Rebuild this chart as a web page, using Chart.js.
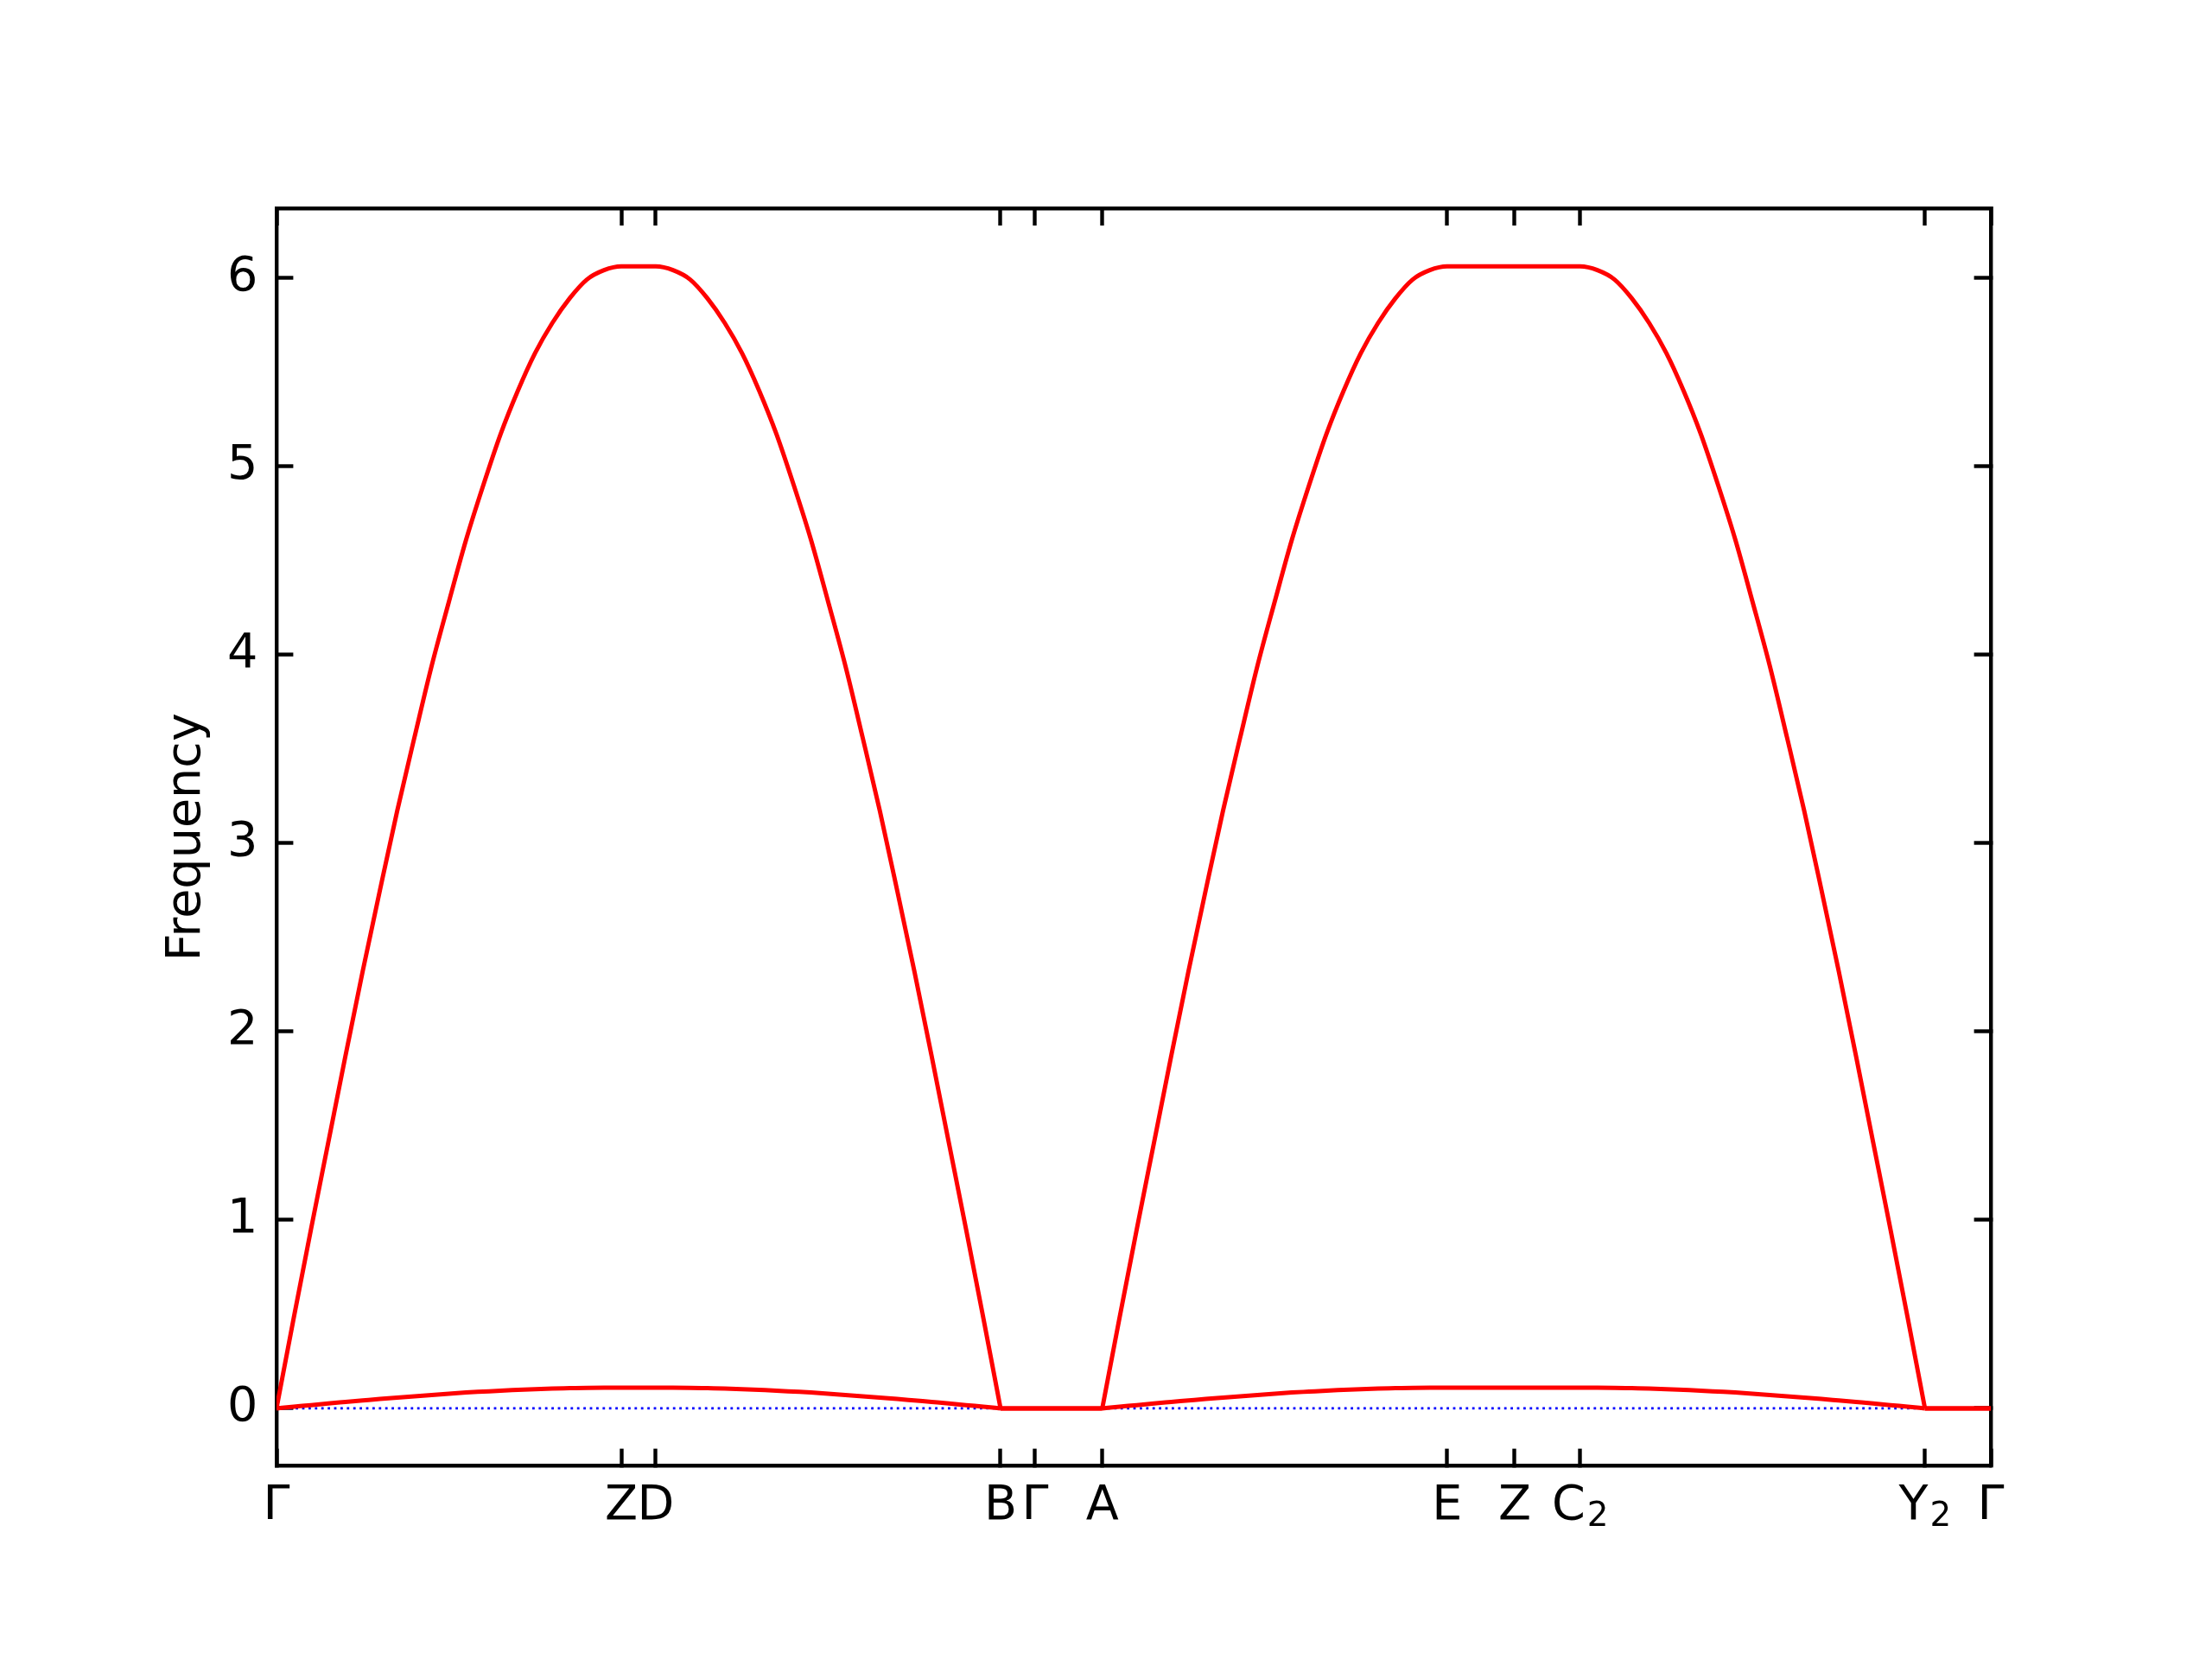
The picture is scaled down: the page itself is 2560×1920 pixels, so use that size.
<!DOCTYPE html>
<html>
<head>
<meta charset="utf-8">
<title>Frequency band structure</title>
<script src="https://cdn.jsdelivr.net/npm/chart.js@4/dist/chart.umd.min.js"></script>
<style>
  body { margin: 0; background: #fff; }
  canvas { display: block; }
</style>
</head>
<body>
<canvas id="bandChart" width="2560" height="1920"></canvas>
<script>
// high-symmetry points along the k-path
const kTicks = [0, 1.0, 1.10, 2.10, 2.20, 2.395, 3.395, 3.591, 3.781, 4.781, 4.972];
const kLabels = ['Γ', 'Z', 'D', 'B', 'Γ', 'A', 'E', 'Z', 'C', 'Y', 'Γ'];
const kSubs = ['', '', '', '', '', '', '', '', '2', '2', ''];

const freqTicks = [0, 1, 2, 3, 4, 5, 6];

// path distance of each sample
const kPath = [
    0, 0.05, 0.10, 0.15, 0.20, 0.25, 0.30, 0.35, 0.40, 0.45, 0.50,
    0.55, 0.60, 0.65, 0.70, 0.75, 0.80, 0.85, 0.90, 0.95, 1.00,
    1.10,
    1.15, 1.20, 1.25, 1.30, 1.35, 1.40, 1.45, 1.50, 1.55, 1.60,
    1.65, 1.70, 1.75, 1.80, 1.85, 1.90, 1.95, 2.00, 2.05, 2.10,
    2.20, 2.395,
    2.445, 2.495, 2.545, 2.595, 2.645, 2.695, 2.745, 2.795, 2.845, 2.895,
    2.945, 2.995, 3.045, 3.095, 3.145, 3.195, 3.245, 3.295, 3.345, 3.395,
    3.591, 3.781,
    3.831, 3.881, 3.931, 3.981, 4.031, 4.081, 4.131, 4.181, 4.231, 4.281,
    4.331, 4.381, 4.431, 4.481, 4.531, 4.581, 4.631, 4.681, 4.731, 4.781,
    4.972
];

// upper (red) band
const upperBand = [
    0, 0.48, 0.95, 1.41, 1.87, 2.32, 2.75, 3.17, 3.56, 3.94, 4.28,
    4.61, 4.90, 5.17, 5.40, 5.60, 5.76, 5.89, 5.99, 6.04, 6.06,
    6.06,
    6.04, 5.99, 5.89, 5.76, 5.60, 5.40, 5.17, 4.90, 4.61, 4.28,
    3.94, 3.56, 3.17, 2.75, 2.32, 1.87, 1.41, 0.95, 0.48, 0,
    0, 0,
    0.48, 0.95, 1.41, 1.87, 2.32, 2.75, 3.17, 3.56, 3.94, 4.28,
    4.61, 4.90, 5.17, 5.40, 5.60, 5.76, 5.89, 5.99, 6.04, 6.06,
    6.06, 6.06,
    6.04, 5.99, 5.89, 5.76, 5.60, 5.40, 5.17, 4.90, 4.61, 4.28,
    3.94, 3.56, 3.17, 2.75, 2.32, 1.87, 1.41, 0.95, 0.48, 0,
    0
];

// lower (red) band
const lowerBand = [
    0, 0.009, 0.017, 0.026, 0.034, 0.042, 0.050, 0.057, 0.064, 0.071, 0.078,
    0.084, 0.089, 0.094, 0.098, 0.102, 0.105, 0.107, 0.109, 0.110, 0.110,
    0.110,
    0.110, 0.109, 0.107, 0.105, 0.102, 0.098, 0.094, 0.089, 0.084, 0.078,
    0.071, 0.064, 0.057, 0.050, 0.042, 0.034, 0.026, 0.017, 0.009, 0,
    0, 0,
    0.009, 0.017, 0.026, 0.034, 0.042, 0.050, 0.057, 0.064, 0.071, 0.078,
    0.084, 0.089, 0.094, 0.098, 0.102, 0.105, 0.107, 0.109, 0.110, 0.110,
    0.110, 0.110,
    0.110, 0.109, 0.107, 0.105, 0.102, 0.098, 0.094, 0.089, 0.084, 0.078,
    0.071, 0.064, 0.057, 0.050, 0.042, 0.034, 0.026, 0.017, 0.009, 0,
    0
];

// smooth stretches of the path (index ranges in kPath), split at the kinks
const pieces = [[0, 41], [41, 43], [43, 85], [85, 86]];

// dotted zero line
const zeroK = [0, 4.972];
const zeroF = [0, 0];

const yMin = -0.303;
const yMax = 6.366;

const FONT = 'DejaVu Sans';
const LABEL_SIZE = 55.6;
const SUB_SIZE = 38.9;
const SPINE = 4.4;
const TICK_LEN = -19.4;   // negative -> ticks point into the plot

Chart.defaults.font.family = FONT;
Chart.defaults.color = '#000';

function toPoints(xs, ys) {
    return xs.map((x, i) => ({ x: x, y: ys[i] }));
}

function setTicks(values) {
    return function (scale) {
        scale.ticks = values.map(v => ({ value: v }));
    };
}

function axisGrid() {
    return {
        drawOnChartArea: false,
        drawTicks: true,
        tickLength: TICK_LEN,
        tickWidth: SPINE,
        tickColor: '#000'
    };
}

function axisBorder() {
    return { display: true, color: '#000', width: SPINE };
}

function bandDatasets(ys, name) {
    return pieces.map(([a, b], i) => ({
        label: name + ' ' + i,
        data: toPoints(kPath.slice(a, b + 1), ys.slice(a, b + 1)),
        borderColor: '#ff0000',
        borderWidth: 5,
        pointRadius: 0,
        cubicInterpolationMode: 'monotone',
        fill: false
    }));
}

// k-point labels with matplotlib-like subscripts, placed through the x scale
const kLabelPlugin = {
    id: 'kLabels',
    afterDraw(chart) {
        const scale = chart.scales.x;
        const c = chart.ctx;
        const base = scale.top + 62;
        c.save();
        c.fillStyle = '#000';
        c.textBaseline = 'alphabetic';
        kTicks.forEach((k, i) => {
            c.font = LABEL_SIZE + 'px "' + FONT + '"';
            const w1 = c.measureText(kLabels[i]).width;
            c.font = SUB_SIZE + 'px "' + FONT + '"';
            const w2 = kSubs[i] ? c.measureText(kSubs[i]).width + 2 : 0;
            const x0 = scale.getPixelForValue(k) - (w1 + w2) / 2;
            c.textAlign = 'left';
            c.font = LABEL_SIZE + 'px "' + FONT + '"';
            c.fillText(kLabels[i], x0, base);
            if (kSubs[i]) {
                c.font = SUB_SIZE + 'px "' + FONT + '"';
                c.fillText(kSubs[i], x0 + w1 + 2, base + 8.4);
            }
        });
        c.restore();
    }
};

const ctx = document.getElementById('bandChart').getContext('2d');

new Chart(ctx, {
    type: 'line',
    data: {
        datasets: [
            ...bandDatasets(upperBand, 'band 2'),
            ...bandDatasets(lowerBand, 'band 1'),
            {
                label: 'zero',
                data: toPoints(zeroK, zeroF),
                borderColor: '#0000ff',
                borderWidth: 2.8,
                borderDash: [2.8, 4.6],
                pointRadius: 0,
                fill: false
            }
        ]
    },
    options: {
        responsive: false,
        devicePixelRatio: 1,
        animation: false,
        layout: {
            padding: { left: 0, right: 246, top: 231.6, bottom: 104 }
        },
        plugins: {
            legend: { display: false },
            tooltip: { enabled: false }
        },
        scales: {
            x: {
                type: 'linear',
                position: 'bottom',
                min: 0,
                max: kTicks[kTicks.length - 1],
                afterBuildTicks: setTicks(kTicks),
                afterFit: scale => { scale.height = 120; },
                ticks: { display: false },
                grid: axisGrid(),
                border: axisBorder()
            },
            xTop: {
                type: 'linear',
                position: 'top',
                min: 0,
                max: kTicks[kTicks.length - 1],
                afterBuildTicks: setTicks(kTicks),
                afterFit: scale => { scale.height = 10; },
                ticks: { display: false },
                grid: axisGrid(),
                border: axisBorder()
            },
            y: {
                type: 'linear',
                position: 'left',
                min: yMin,
                max: yMax,
                afterBuildTicks: setTicks(freqTicks),
                afterFit: scale => { scale.width = 320; },
                ticks: {
                    padding: 41,
                    font: { size: LABEL_SIZE },
                    callback: value => String(value)
                },
                title: {
                    display: true,
                    text: 'Frequency',
                    font: { size: LABEL_SIZE },
                    padding: { top: 183, bottom: 0 }
                },
                grid: axisGrid(),
                border: axisBorder()
            },
            yRight: {
                type: 'linear',
                position: 'right',
                min: yMin,
                max: yMax,
                afterBuildTicks: setTicks(freqTicks),
                afterFit: scale => { scale.width = 10; },
                ticks: { display: false },
                grid: axisGrid(),
                border: axisBorder()
            }
        }
    },
    plugins: [kLabelPlugin]
});
</script>
</body>
</html>
